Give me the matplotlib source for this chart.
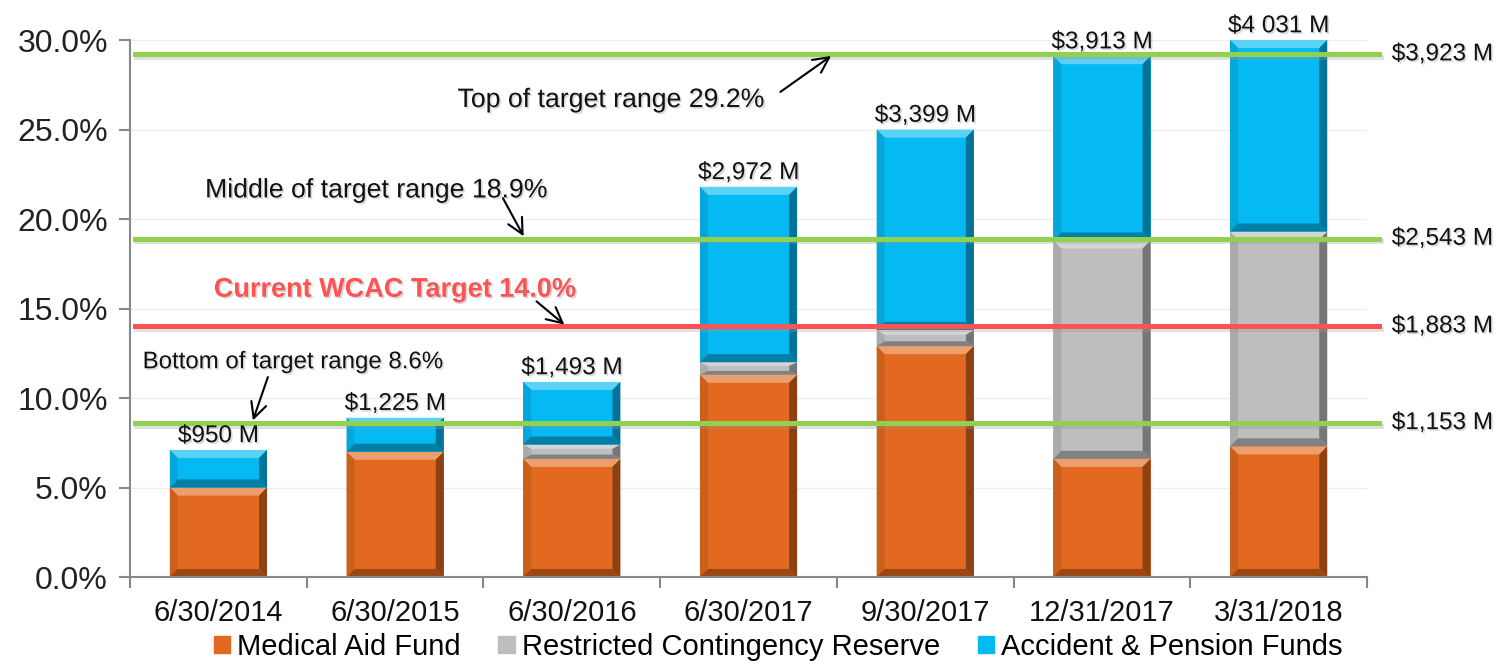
import numpy as np
import matplotlib
matplotlib.use("Agg")
import matplotlib.pyplot as plt
import matplotlib.patheffects as pe
from matplotlib.patches import Polygon, Patch
from matplotlib.colors import to_rgb

plt.rcParams['font.family'] = ['Liberation Sans', 'DejaVu Sans']

# Reserve ratio by fund, % of liabilities
dates = ['6/30/2014', '6/30/2015', '6/30/2016', '6/30/2017',
         '9/30/2017', '12/31/2017', '3/31/2018']
medical = [5.0, 7.0, 6.6, 11.3, 12.9, 6.6, 7.3]
restricted = [0.0, 0.0, 0.8, 0.7, 0.9, 12.2, 12.0]
accident = [2.1, 1.9, 3.5, 9.8, 11.2, 10.3, 10.7]
total_labels = ['$950 M', '$1,225 M', '$1,493 M', '$2,972 M',
                '$3,399 M', '$3,913 M', '$4 031 M']

series_names = ['Medical Aid Fund', 'Restricted Contingency Reserve',
                'Accident & Pension Funds']
series_colors = ['#E2691F', '#BEBEBE', '#05B9F3']

# Target levels
target_pcts = [29.2, 18.9, 14.0, 8.6]
target_dollars = ['$3,923 M', '$2,543 M', '$1,883 M', '$1,153 M']
target_names = ['Top of target range 29.2%', 'Middle of target range 18.9%',
                'Current WCAC Target 14.0%', 'Bottom of target range 8.6%']

GREEN = '#92D050'
RED = '#FF5252'

fig = plt.figure(figsize=(15.07, 6.66), dpi=100)
ax = fig.add_axes([0.0863, 0.1336, 0.8208, 0.8063])

x = np.arange(len(dates))
width = 0.55
bx = 0.045


def bevel(ax, xc, bottom, height, color):
    # flat bar face plus four bevel facets
    if height <= 0:
        return
    x0, x1 = xc - width / 2, xc + width / 2
    y0, y1 = bottom, bottom + height
    by = min(0.45, height * 0.3)
    base = np.array(to_rgb(color))
    light = base + (1 - base) * 0.35
    dark = base * 0.68
    right = base * 0.62
    left = base * 0.9
    facets = [
        ([(x0, y1), (x1, y1), (x1 - bx, y1 - by), (x0 + bx, y1 - by)], light),
        ([(x1, y1), (x1, y0), (x1 - bx, y0 + by), (x1 - bx, y1 - by)], right),
        ([(x0, y1), (x0, y0), (x0 + bx, y0 + by), (x0 + bx, y1 - by)], left),
        ([(x0, y0), (x1, y0), (x1 - bx, y0 + by), (x0 + bx, y0 + by)], dark),
    ]
    for pts, fc in facets:
        ax.add_patch(Polygon(pts, closed=True, fc=fc, ec='none', zorder=2.1))


bottoms = np.zeros(len(dates))
for vals, color in zip([medical, restricted, accident], series_colors):
    vals = np.array(vals)
    ax.bar(x, vals, width, bottom=bottoms, color=color, zorder=2)
    for xi, b, h in zip(x, bottoms, vals):
        bevel(ax, xi, b, h, color)
    bottoms = bottoms + vals

text_shadow = [pe.withSimplePatchShadow(offset=(1.2, -1.2),
                                        shadow_rgbFace='#aaaaaa', alpha=0.45)]
line_shadow = [pe.SimpleLineShadow(offset=(1.0, -1.8), shadow_color='#999999',
                                   alpha=0.3), pe.Normal()]

# total labels above each stack
for xi, top, lab in zip(x, bottoms, total_labels):
    ax.annotate(lab, (xi, top), xytext=(0, 2), textcoords='offset points',
                ha='center', va='bottom', fontsize=17.5, color='#111111',
                path_effects=text_shadow, annotation_clip=False, zorder=5)

# target lines with dollar labels on the right
line_colors = [GREEN, GREEN, RED, GREEN]
for pct, dol, lc in zip(target_pcts, target_dollars, line_colors):
    ax.axhline(pct, xmin=0.004, xmax=1.01, color=lc, lw=3.6, clip_on=False,
               zorder=3, path_effects=line_shadow)
    ax.text(1.02, pct, dol, transform=ax.get_yaxis_transform(), ha='left',
            va='center', fontsize=17.5, color='#111111', path_effects=text_shadow)

# callouts
text_pos = [(2.22, 26.65), (0.89, 21.6), (1.0, 16.05), (0.42, 12.0)]
text_size = [19.2, 19.2, 19.5, 17.3]
arrow_tail = [(3.18, 27.1), (1.61, 21.17), (1.80, 15.4), (0.28, 11.17)]
for name, tp, fs in zip(target_names, text_pos, text_size):
    is_wcac = name.startswith('Current')
    ax.text(tp[0], tp[1], name, ha='center', va='center', fontsize=fs,
            fontweight='bold' if is_wcac else 'normal',
            color=RED if is_wcac else '#111111',
            path_effects=text_shadow, zorder=5)
head_x = [3.48, 1.735, 1.97, 0.19]
for hx, pct, tail in zip(head_x, target_pcts, arrow_tail):
    ax.annotate('', xy=(hx, pct), xytext=tail,
                arrowprops=dict(arrowstyle='->', lw=1.5, color='black',
                                mutation_scale=28, shrinkA=0, shrinkB=2),
                zorder=5)

# axes styling
ax.set_xlim(-0.5, len(dates) - 0.5)
ax.set_ylim(0, 30)
ax.set_yticks(np.arange(0, 30.1, 5))
ax.set_yticklabels([f'{v:.1f}%' for v in np.arange(0, 30.1, 5)],
                   fontsize=23, color='#222222')
ax.set_xticks(x)
ax.set_xticklabels(dates, fontsize=21, color='#111111')
ax.set_xticks(np.arange(-0.5, len(dates), 1), minor=True)
ax.tick_params(axis='x', which='major', length=0, pad=16)
ax.tick_params(axis='x', which='minor', length=8, color='#888888', width=1.5)
ax.tick_params(axis='y', length=8, color='#888888', width=1.5, pad=8)
ax.yaxis.grid(True, color='#EEEEEE', lw=1)
ax.set_axisbelow(True)
for s in ['top', 'right']:
    ax.spines[s].set_visible(False)
for s in ['left', 'bottom']:
    ax.spines[s].set_color('#888888')
    ax.spines[s].set_linewidth(1.5)

handles = [Patch(color=c) for c in series_colors]
ax.legend(handles, series_names, loc='center', bbox_to_anchor=(0.524, -0.13),
          ncol=3, frameon=False, fontsize=21, handlelength=0.55,
          handleheight=0.55, handletextpad=0.25, columnspacing=1.3)

fig.savefig('out.png', dpi=100)
